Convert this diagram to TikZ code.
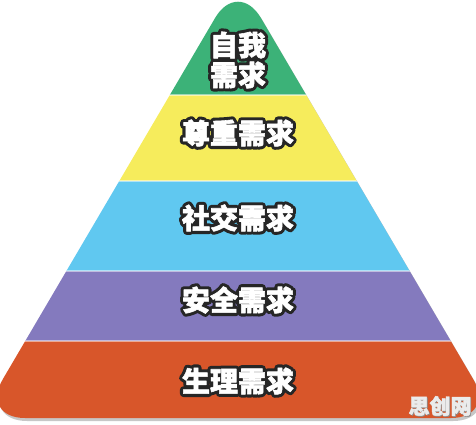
\documentclass[tikz,border=0pt]{standalone}
\usepackage{fontspec}
\newfontfamily\cjk{Noto Sans CJK SC}[FakeBold=2]
\newfontfamily\cjkrim{Noto Sans CJK SC}[FakeBold=24]
\definecolor{needgreen}{RGB}{60,178,120}
\definecolor{needyellow}{RGB}{246,236,92}
\definecolor{needblue}{RGB}{96,200,240}
\definecolor{needpurple}{RGB}{132,122,190}
\definecolor{needorange}{RGB}{216,86,42}
\tikzset{
  lbl/.style={inner sep=0pt,align=center,font=\cjk\bfseries\fontsize{28}{30}\selectfont},
  rim/.style={inner sep=0pt,align=center,font=\cjkrim\bfseries\fontsize{28}{30}\selectfont},
  wmark/.style={inner sep=0pt,font=\cjk\bfseries\fontsize{21}{21}\selectfont}
}
\begin{document}
\begin{tikzpicture}[x=1pt,y=-1pt,line join=round]
  \def\ax{238} \def\ay{-21} \def\by{418} \def\lx{-20} \def\rx{496}
  \useasboundingbox (0,0) rectangle (476,424);
  % shadow
  \fill[black!22,rounded corners=45pt,xshift=2pt,yshift=-3pt] (\ax,\ay)--(\rx,\by)--(\lx,\by)--cycle;
  \begin{scope}
    \clip[rounded corners=45pt] (\ax,\ay)--(\rx,\by)--(\lx,\by)--cycle;
    \fill[needgreen] (0,-30) rectangle (476,95);
    \fill[needyellow] (0,95) rectangle (476,181);
    \fill[needblue] (0,181) rectangle (476,271);
    \fill[needpurple] (0,271) rectangle (476,341);
    \fill[needorange] (0,341) rectangle (476,430);
    \draw[white,opacity=.5,line width=1.5pt] (0,95)--(476,95) (0,181)--(476,181) (0,271)--(476,271) (0,341)--(476,341);
  \end{scope}
  % labels
  \foreach \n/\y/\t in {self/60/{自我\\需求},esteem/133/尊重需求,social/218/社交需求,safety/300/安全需求,body/381/生理需求}{
    \node[rim,text=black!85] at (238,\y) {\t};
    \node[lbl,text=white] (\n) at (238,\y) {\t};
  }
  % watermark
  \node[wmark,text=black!45] at (440.8,406.8) {思创网};
  \node[wmark,text=black!8] (wm) at (440,406) {思创网};
\end{tikzpicture}
\end{document}
